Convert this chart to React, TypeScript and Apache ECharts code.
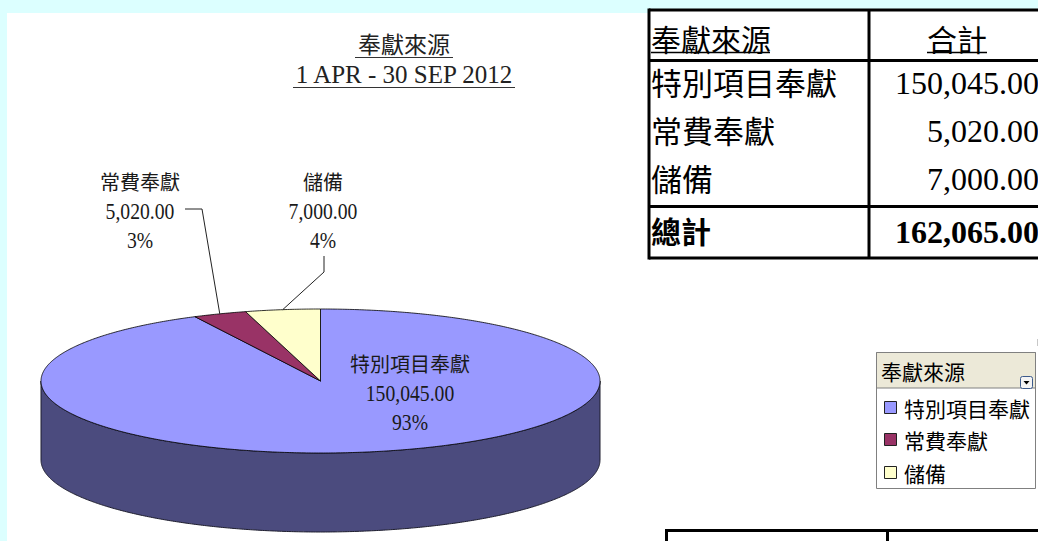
import React, { useEffect, useRef } from 'react';
import * as echarts from 'echarts';

// ---------- data ----------
const categories = ['特別項目奉獻', '常費奉獻', '儲備'];
const amounts = [150045, 5020, 7000];
const titleLines = ['奉獻來源', '1 APR - 30 SEP 2012'];
const tableHeaders = ['奉獻來源', '合計'];
const totalLabel = '總計';
const legendTitle = '奉獻來源';

// ---------- styles / layout ----------
const topColors = ['#9999ff', '#993366', '#ffffcc'];
const sideColors = ['#4b4b7e', '#4c1933', '#7f7f66'];
const PIE = { cx: 320.5, cy: 381, rx: 279.5, ry: 72, depth: 79, start: 90 };
const LABEL_POS: number[][] = [[410, 393], [140, 211], [323, 211]];
const LEADERS: (number[][] | null)[] = [null, [[185, 209], [202, 209]], [[324, 256], [324, 272]]];
const CJK = '"Noto Sans CJK TC"';
const SERIF = '"Liberation Serif"';

const total = amounts.reduce((a, b) => a + b, 0);
const fmt = (v: number) => v.toLocaleString('en-US', { minimumFractionDigits: 2, maximumFractionDigits: 2 });

function pt(deg: number, dy = 0): number[] {
  const r = (deg * Math.PI) / 180;
  return [PIE.cx + PIE.rx * Math.cos(r), PIE.cy - PIE.ry * Math.sin(r) + dy];
}
function arcPts(from: number, to: number, dy = 0): number[][] {
  const n = Math.max(2, Math.ceil(Math.abs(to - from) * 2));
  const out: number[][] = [];
  for (let j = 0; j <= n; j++) out.push(pt(from + ((to - from) * j) / n, dy));
  return out;
}
function angles(idx: number): number[] {
  let before = 0;
  for (let k = 0; k < idx; k++) before += amounts[k];
  const a1 = PIE.start - (before / total) * 360;
  const a2 = a1 - (amounts[idx] / total) * 360;
  return [a1, a2];
}

function txt(x: number, y: number, text: string, font: string, opts: any = {}) {
  return {
    type: 'text',
    x,
    y,
    scaleX: opts.scaleX ?? 1,
    z: opts.z ?? 20,
    style: {
      text,
      font,
      fill: opts.fill ?? '#111',
      align: opts.align ?? 'center',
      textAlign: opts.align ?? 'center',
      verticalAlign: 'middle',
      textVerticalAlign: 'middle',
    },
  };
}
function ln(x1: number, y1: number, x2: number, y2: number, w: number, color = '#000', z = 20) {
  return { type: 'line', z, shape: { x1, y1, x2, y2 }, style: { stroke: color, lineWidth: w } };
}

export default function App() {
  const ref = useRef<HTMLDivElement>(null);
  useEffect(() => {
    if (!ref.current) return;
    const chart = echarts.init(ref.current, undefined, { renderer: 'svg' });

    const data = amounts.map((v, i) => ({ name: categories[i], value: [i, v] }));

    const sideSeries = {
      type: 'custom',
      coordinateSystem: 'none',
      z: 5,
      silent: true,
      data,
      renderItem: (params: any, api: any) => {
        const idx = api.value(0);
        const [a1, a2] = angles(idx);
        const children: any[] = [];
        for (let k = -1; k <= 1; k++) {
          const lo = Math.max(a2, -180 + 360 * k);
          const hi = Math.min(a1, 0 + 360 * k);
          if (hi - lo > 0.01) {
            const top = arcPts(lo, hi, 0);
            const bottom = arcPts(hi, lo, PIE.depth);
            children.push({
              type: 'polygon',
              shape: { points: top.concat(bottom) },
              style: { fill: sideColors[idx], stroke: '#1e1e2e', lineWidth: 1 },
            });
          }
        }
        return { type: 'group', children };
      },
    };

    const topSeries = {
      type: 'custom',
      coordinateSystem: 'none',
      z: 6,
      silent: true,
      data,
      renderItem: (params: any, api: any) => {
        const idx = api.value(0);
        const val = api.value(1);
        const [a1, a2] = angles(idx);
        const pts = [[PIE.cx, PIE.cy]].concat(arcPts(a1, a2, 0));
        const mid = (a1 + a2) / 2;
        const [lx, ly] = LABEL_POS[idx];
        const children: any[] = [
          {
            type: 'polygon',
            shape: { points: pts },
            style: { fill: topColors[idx], stroke: '#000', lineWidth: 0.8 },
          },
          txt(lx, ly - 29.5, categories[idx], `20px ${CJK}`, { fill: '#1a1a1a' }),
          txt(lx, ly, fmt(val), `24px ${SERIF}`, { scaleX: 0.82, fill: '#1a1a1a' }),
          txt(lx, ly + 29, Math.round((val / total) * 100) + '%', `24px ${SERIF}`, { scaleX: 0.82, fill: '#1a1a1a' }),
        ];
        const lead = LEADERS[idx];
        if (lead) {
          children.push({
            type: 'polyline',
            shape: { points: lead.concat([pt(mid)]) },
            style: { stroke: '#222', lineWidth: 1, fill: null },
          });
        }
        return { type: 'group', children };
      },
    };

    // ---------- graphics: background, title, table, legend ----------
    const g: any[] = [];
    g.push({ type: 'rect', z: 0, shape: { x: 0, y: 0, width: 1038, height: 541 }, style: { fill: '#dcffff' } });
    g.push({ type: 'rect', z: 1, shape: { x: 7, y: 13, width: 1031, height: 528 }, style: { fill: '#ffffff' } });

    // title
    g.push(txt(404, 43, titleLines[0], `23px ${CJK}`, { fill: '#222' }));
    g.push(ln(355, 57.5, 453, 57.5, 1.2, '#333'));
    g.push(txt(404, 74, titleLines[1], `25px ${SERIF}`, { fill: '#222', scaleX: 1 }));
    g.push(ln(293, 87.5, 515, 87.5, 1.2, '#333'));

    // table
    const tl = 649, tr = 1045, colX = 869;
    const yTop = 10, yHead = 60.5, yTot = 206.5, yBot = 258;
    g.push({ type: 'rect', z: 19, shape: { x: tl, y: yTop, width: tr - tl, height: yBot - yTop }, style: { fill: '#fff' } });
    g.push(ln(tl, yTop, tr, yTop, 3));
    g.push(ln(tl, yBot, tr, yBot, 3));
    g.push(ln(tl, yTop - 1.5, tl, yBot + 1.5, 3));
    g.push(ln(colX, yTop, colX, yBot, 3));
    g.push(ln(tl, yHead, tr, yHead, 3));
    g.push(ln(tl, yTot, tr, yTot, 3));
    g.push(txt(651, 38, tableHeaders[0], `30px ${CJK}`, { align: 'left', fill: '#000' }));
    g.push(ln(651, 52.5, 770, 52.5, 1.5));
    g.push(txt(957, 38, tableHeaders[1], `30px ${CJK}`, { fill: '#000' }));
    g.push(ln(927, 52.5, 987, 52.5, 1.5));
    const rowY = [81, 129, 177];
    categories.forEach((c, i) => {
      g.push(txt(651, rowY[i], c, `31px ${CJK}`, { align: 'left', fill: '#000' }));
      g.push(txt(1039, rowY[i] + 2, fmt(amounts[i]), `32px ${SERIF}`, { align: 'right', fill: '#000' }));
    });
    g.push(txt(651, 230, totalLabel, `bold 30px ${CJK}`, { align: 'left', fill: '#000' }));
    g.push(txt(1039, 232, fmt(total), `bold 32px ${SERIF}`, { align: 'right', fill: '#000' }));

    // legend box
    const lx = 876.5, ly = 352.5, lw = 159, lh = 136;
    g.push({ type: 'rect', z: 19, shape: { x: lx, y: ly, width: lw, height: lh }, style: { fill: '#fff', stroke: '#808080', lineWidth: 1 } });
    g.push({ type: 'rect', z: 19, shape: { x: lx, y: ly, width: lw, height: 35.5 }, style: { fill: '#ece9d8', stroke: '#808080', lineWidth: 1 } });
    g.push(txt(881, 371, legendTitle, `21px ${CJK}`, { align: 'left', fill: '#000' }));
    g.push({ type: 'rect', z: 20, shape: { x: 1020.5, y: 376.5, width: 12, height: 12, r: 2 }, style: { fill: '#f4f4f4', stroke: '#3c5a8c', lineWidth: 1 } });
    g.push({ type: 'polygon', z: 21, shape: { points: [[1023.5, 381], [1029.5, 381], [1026.5, 384.5]] }, style: { fill: '#000' } });
    const legY = [408, 440, 473];
    categories.forEach((c, i) => {
      g.push({ type: 'rect', z: 20, shape: { x: 884.5, y: legY[i] - 6.5, width: 12, height: 12 }, style: { fill: topColors[i], stroke: '#222', lineWidth: 1 } });
      g.push(txt(904, legY[i], c, `21px ${CJK}`, { align: 'left', fill: '#000' }));
    });
    g.push(ln(1037.5, 339, 1037.5, 346, 1, '#c8c8c8'));

    // bottom table fragment
    g.push(ln(665, 530.5, 1040, 530.5, 3));
    g.push(ln(666.5, 529, 666.5, 545, 3));
    g.push(ln(887.5, 529, 887.5, 545, 3));

    chart.setOption({
      animation: false,
      graphic: { elements: g },
      series: [sideSeries, topSeries],
    });
    return () => chart.dispose();
  }, []);

  return (
    <div
      ref={ref}
      style={{ position: 'fixed', left: 0, top: 0, width: 1038, height: 541, background: '#dcffff' }}
    />
  );
}
